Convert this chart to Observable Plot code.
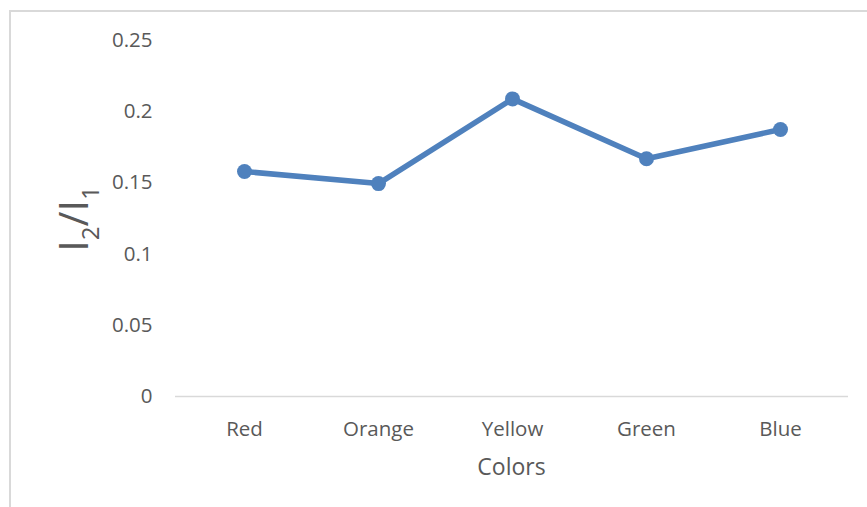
<!DOCTYPE html>
<html><head><meta charset="utf-8">
<script src="https://cdn.jsdelivr.net/npm/d3@7"></script>
<script src="https://cdn.jsdelivr.net/npm/@observablehq/plot@0.6"></script>
<style>body{margin:0;background:#fff;}</style>
</head><body><div id="chart"></div>
<script>
const categories = ["Red", "Orange", "Yellow", "Green", "Blue"];
const ratios = [0.158, 0.1495, 0.209, 0.167, 0.1875];
const yTicks = [0, 0.05, 0.1, 0.15, 0.2, 0.25];
const yTickLabels = ["0", "0.05", "0.1", "0.15", "0.2", "0.25"];
const xTitle = "Colors";

const data = categories.map((c, i) => ({color: c, ratio: ratios[i]}));

const chart = Plot.plot({
  width: 867, height: 507,
  marginLeft: 175, marginRight: 19, marginTop: 40, marginBottom: 111,
  style: {fontFamily: "'Open Sans', sans-serif", fontSize: "20.5px", color: "#595959", background: "#fff"},
  x: {type: "point", domain: categories, padding: 0.5, label: null},
  y: {domain: [0, 0.25], label: null},
  marks: [
    Plot.axisY(yTicks, {tickSize: 0, tickPadding: 23, label: null, fontSize: 20.5, tickFormat: d => yTickLabels[yTicks.indexOf(d)]}),
    Plot.axisX({tickSize: 0, tickPadding: 25, label: null, fontSize: 20.5}),
    Plot.ruleY([0], {stroke: "#d9d9d9", strokeWidth: 1.5}),
    Plot.lineY(data, {x: "color", y: "ratio", stroke: "#4f81bd", strokeWidth: 5.5}),
    Plot.dot(data, {x: "color", y: "ratio", r: 7.5, fill: "#4f81bd"})
  ]
});

const svg = d3.select(chart);
svg.insert("rect", ":first-child")
  .attr("x", 10).attr("y", 11).attr("width", 1000).attr("height", 1000)
  .attr("fill", "none").attr("stroke", "#d9d9d9").attr("stroke-width", 2);

svg.append("text")
  .attr("x", 511.5).attr("y", 475)
  .attr("text-anchor", "middle")
  .attr("fill", "#595959")
  .style("font-family", "'Open Sans', sans-serif")
  .style("font-size", "23px")
  .text(xTitle);

const yl = svg.append("text")
  .attr("transform", "translate(88,219) rotate(-90)")
  .attr("text-anchor", "middle")
  .attr("fill", "#595959")
  .style("font-family", "'Open Sans', sans-serif")
  .style("font-size", "41px");
yl.append("tspan").text("I");
yl.append("tspan").attr("dy", 11).style("font-size", "24px").text("2");
yl.append("tspan").attr("dy", -11).text("/");
yl.append("tspan").text("I");
yl.append("tspan").attr("dy", 11).style("font-size", "24px").text("1");

document.getElementById("chart").appendChild(chart);
</script>
</body></html>
